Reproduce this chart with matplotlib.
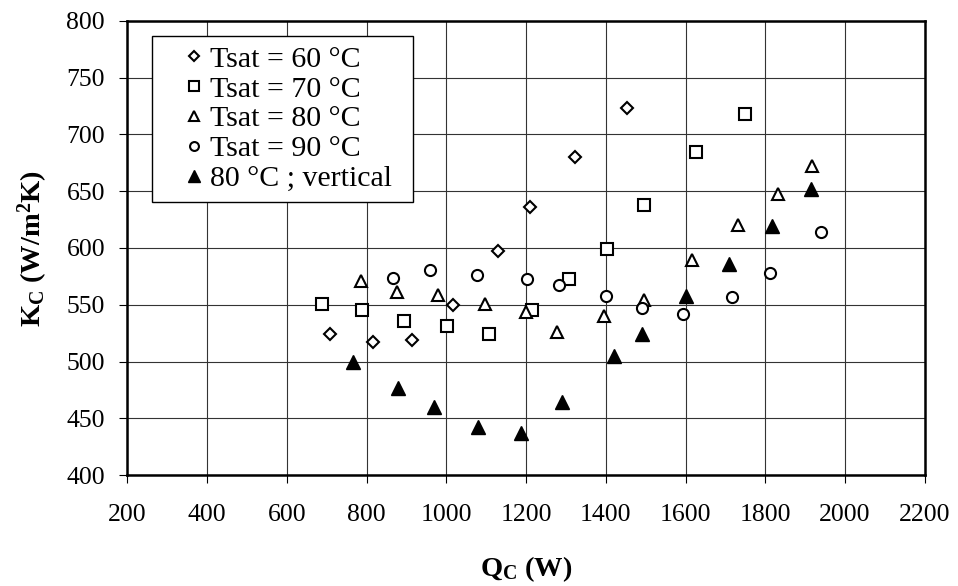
import matplotlib
matplotlib.use("Agg")
import matplotlib.pyplot as plt

plt.rcParams['font.family'] = ['Liberation Serif', 'DejaVu Serif']
plt.rcParams['mathtext.fontset'] = 'custom'
plt.rcParams['mathtext.rm'] = 'Liberation Serif'
plt.rcParams['mathtext.bf'] = 'Liberation Serif:bold'
plt.rcParams['mathtext.it'] = 'Liberation Serif:italic'

# Data (Q_C in W, K_C in W/m2K)
q60 = [708, 815, 915, 1018, 1130, 1210, 1323, 1453]
k60 = [524, 517, 519, 550, 597, 636, 680, 723]

q70 = [689, 789, 895, 1001, 1108, 1215, 1309, 1404, 1497, 1627, 1750]
k70 = [551, 545, 536, 531, 524, 545, 573, 599, 638, 685, 718]

q80 = [785, 876, 978, 1098, 1199, 1277, 1396, 1497, 1616, 1732, 1833, 1917]
k80 = [571, 561, 559, 551, 544, 526, 540, 554, 589, 620, 648, 672]

q90 = [866, 960, 1076, 1202, 1283, 1401, 1490, 1594, 1717, 1812, 1939]
k90 = [574, 581, 576, 573, 567, 558, 547, 542, 557, 578, 614]

q80v = [765, 878, 969, 1079, 1187, 1290, 1420, 1491, 1602, 1710, 1816, 1914]
k80v = [500, 477, 460, 442, 437, 464, 505, 524, 558, 586, 619, 652]

labels = ['Tsat = 60 °C', 'Tsat = 70 °C', 'Tsat = 80 °C', 'Tsat = 90 °C', '80 °C ; vertical']
xticks = list(range(200, 2201, 200))
yticks = list(range(400, 801, 50))

fig = plt.figure(figsize=(9.58, 5.86), dpi=100)
ax = fig.add_axes([0.1329, 0.1894, 0.8324, 0.7748])

ax.plot(q60, k60, linestyle='none', marker='D', ms=6.5, mfc='white', mec='black', mew=1.5, label=labels[0], zorder=3)
ax.plot(q70, k70, linestyle='none', marker='s', ms=9, mfc='white', mec='black', mew=1.5, label=labels[1], zorder=3)
ax.plot(q80, k80, linestyle='none', marker='^', ms=9, mfc='white', mec='black', mew=1.5, label=labels[2], zorder=3)
ax.plot(q90, k90, linestyle='none', marker='o', ms=8, mfc='white', mec='black', mew=1.5, label=labels[3], zorder=3)
ax.plot(q80v, k80v, linestyle='none', marker='^', ms=10, mfc='black', mec='black', mew=1.0, label=labels[4], zorder=3)

ax.set_xlim(200, 2200)
ax.set_ylim(400, 800)
ax.set_xticks(xticks)
ax.set_yticks(yticks)
ax.grid(True, color='#333333', linewidth=0.8)
ax.set_axisbelow(True)

for s in ax.spines.values():
    s.set_linewidth(1.8)
    s.set_color('black')

ax.tick_params(axis='both', direction='out', length=6, width=0.8, labelsize=18.5, colors='black')
ax.tick_params(axis='x', pad=15)
ax.tick_params(axis='y', pad=10)

ax.set_xlabel(r'$\mathbf{Q_C\ (W)}$', fontsize=20.5, labelpad=20)
ax.set_ylabel(r'$\mathbf{K_C\ (W/m^2K)}$', fontsize=20.5, labelpad=12)

leg = ax.legend(loc='upper left', bbox_to_anchor=(0.031, 0.967, 0.3273, 0.0), mode='expand',
                borderaxespad=0,
                fontsize=21.5, frameon=True, fancybox=False, shadow=False,
                handlelength=2.15, handletextpad=-0.54, borderpad=0.33, labelspacing=0.1,
                markerscale=0.8)
leg.get_frame().set_edgecolor('black')
leg.get_frame().set_linewidth(1.0)
leg.get_frame().set_alpha(1)

fig.savefig('out.png', dpi=100, facecolor='white')
